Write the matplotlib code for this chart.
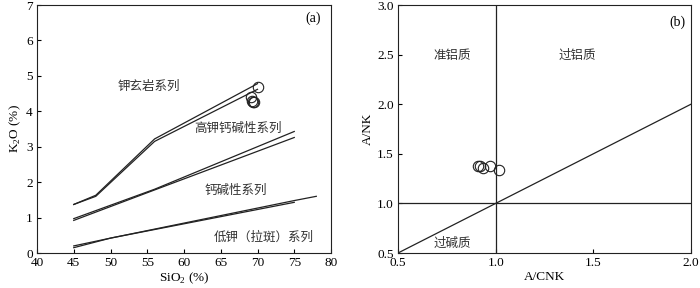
import matplotlib
matplotlib.use("Agg")
import matplotlib.pyplot as plt

plt.rcParams['font.family'] = ['Liberation Serif', 'Noto Sans CJK SC']
plt.rcParams['mathtext.fontset'] = 'custom'
plt.rcParams['mathtext.rm'] = 'Liberation Serif'

# Panel (a) boundaries (SiO2, K2O)
shosh_upper_x = [45, 48, 56, 70]
shosh_upper_y = [1.37, 1.63, 3.22, 4.78]
shosh_lower_x = [45, 48, 56, 70]
shosh_lower_y = [1.37, 1.60, 3.15, 4.62]
hk_upper_x = [45, 56, 75]
hk_upper_y = [0.97, 1.80, 3.43]
hk_lower_x = [45, 56, 75]
hk_lower_y = [0.92, 1.78, 3.26]
lk_upper_x = [45, 50, 75, 78]
lk_upper_y = [0.20, 0.42, 1.48, 1.60]
lk_lower_x = [45, 50, 75]
lk_lower_y = [0.15, 0.42, 1.43]

samples_sio2 = [70.0, 69.1, 69.4, 69.3, 69.5]
samples_k2o = [4.68, 4.40, 4.25, 4.30, 4.27]

# Panel (b)
acnk = [0.91, 0.92, 0.935, 0.97, 1.015]
ank = [1.375, 1.38, 1.355, 1.375, 1.34]

fig = plt.figure(figsize=(7, 2.88), dpi=100)
ax1 = fig.add_axes([37/700, 35/288, 294/700, 248/288])
ax2 = fig.add_axes([398/700, 35/288, 293/700, 248/288])

lc = '#222222'
lw = 0.9
for xs, ys in [(shosh_upper_x, shosh_upper_y), (shosh_lower_x, shosh_lower_y),
               (hk_upper_x, hk_upper_y), (hk_lower_x, hk_lower_y),
               (lk_upper_x, lk_upper_y), (lk_lower_x, lk_lower_y)]:
    ax1.plot(xs, ys, color=lc, lw=lw)
ax1.plot(samples_sio2, samples_k2o, 'o', mfc='none', mec=lc, ms=7.5, mew=0.8)
ax1.set_xlim(40, 80)
ax1.set_ylim(0, 7)
ax1.set_xticks([40, 45, 50, 55, 60, 65, 70, 75, 80])
ax1.set_yticks(range(0, 8))
ax1.set_xlabel('SiO$_{\\mathregular{2}}$ (%)', fontsize=9.5, labelpad=1)
ax1.set_ylabel('K$_{\\mathregular{2}}$O (%)', fontsize=9.5, labelpad=2)
cjk = ['Noto Sans CJK SC', 'DejaVu Sans']
ax1.text(55.2, 4.71, '钾玄岩系列', family=cjk, fontsize=9, ha='center', va='center', color='#333333')
ax1.text(67.3, 3.53, '高钾钙碱性系列', family=cjk, fontsize=9, ha='center', va='center', color='#333333')
ax1.text(67.1, 1.78, '钙碱性系列', family=cjk, fontsize=9, ha='center', va='center', color='#333333')
ax1.text(70.8, 0.45, '低钾（拉斑）系列', family=cjk, fontsize=9, ha='center', va='center', color='#333333')
ax1.text(77.6, 6.63, '(a)', fontsize=10, ha='center', va='center')

ax2.plot([1, 1], [0.5, 3.0], color=lc, lw=lw)
ax2.plot([0.5, 2.0], [1, 1], color=lc, lw=lw)
ax2.plot([0.5, 2.0], [0.5, 2.0], color=lc, lw=lw)
ax2.plot(acnk, ank, 'o', mfc='none', mec=lc, ms=7.5, mew=0.8)
ax2.set_xlim(0.5, 2.0)
ax2.set_ylim(0.5, 3.0)
ax2.set_xticks([0.5, 1.0, 1.5, 2.0])
ax2.set_yticks([0.5, 1.0, 1.5, 2.0, 2.5, 3.0])
ax2.set_xticklabels(['0.5', '1.0', '1.5', '2.0'])
ax2.set_yticklabels(['0.5', '1.0', '1.5', '2.0', '2.5', '3.0'])
ax2.set_xlabel('A/CNK', fontsize=9.5, labelpad=1)
ax2.set_ylabel('A/NK', fontsize=9.5, labelpad=2)
ax2.text(0.78, 2.49, '准铝质', family=cjk, fontsize=9, ha='center', va='center', color='#333333')
ax2.text(1.42, 2.49, '过铝质', family=cjk, fontsize=9, ha='center', va='center', color='#333333')
ax2.text(0.78, 0.60, '过碱质', family=cjk, fontsize=9, ha='center', va='center', color='#333333')
ax2.text(1.93, 2.83, '(b)', fontsize=10, ha='center', va='center')

for ax in (ax1, ax2):
    ax.tick_params(direction='in', labelsize=9.5, length=3, width=0.8, pad=3)
    for s in ax.spines.values():
        s.set_linewidth(0.8)
        s.set_color(lc)

fig.savefig('out.png', dpi=100)
